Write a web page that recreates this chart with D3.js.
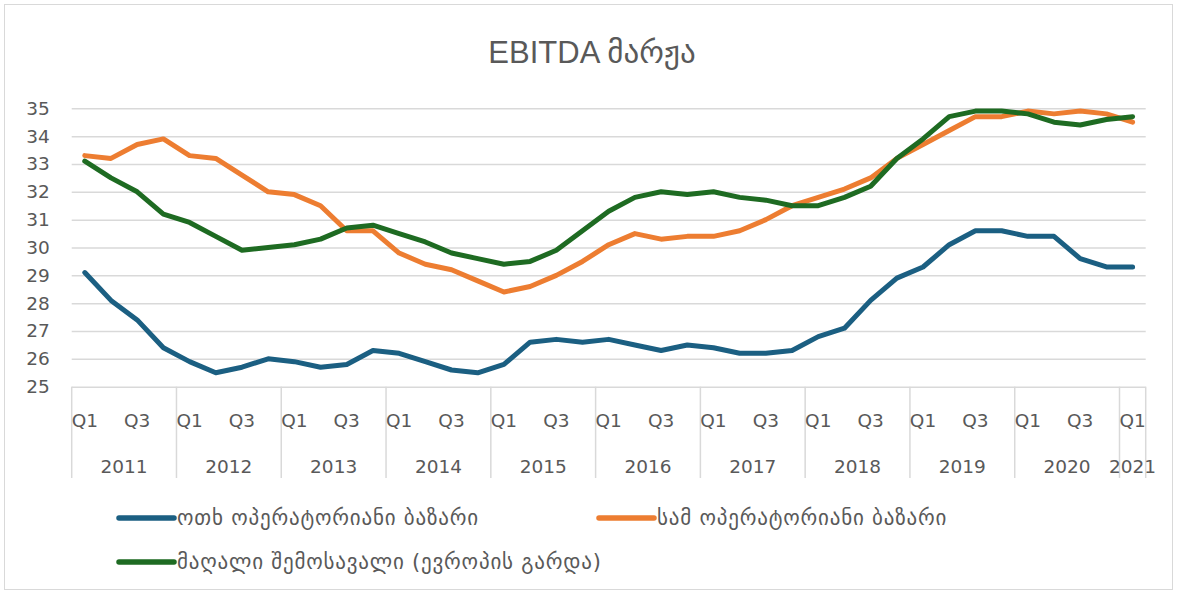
<!DOCTYPE html>
<html>
<head>
<meta charset="utf-8">
<script src="https://cdn.jsdelivr.net/npm/d3@7/dist/d3.min.js"></script>
<style>
  body { margin: 0; background: #fff; }
  text { font-family: "DejaVu Sans", sans-serif; fill: #595959; }
</style>
</head>
<body>
<svg id="chart" width="1177" height="593"></svg>
<script>
// chart data
var years = [2011, 2012, 2013, 2014, 2015, 2016, 2017, 2018, 2019, 2020, 2021];
var quarters = ["Q1", "Q2", "Q3", "Q4"];
var yTicks = [25, 26, 27, 28, 29, 30, 31, 32, 33, 34, 35];

var fourOp = [29.1, 28.1, 27.4, 26.4, 25.9, 25.5, 25.7, 26.0, 25.9, 25.7, 25.8,
  26.3, 26.2, 25.9, 25.6, 25.5, 25.8, 26.6, 26.7, 26.6, 26.7, 26.5,
  26.3, 26.5, 26.4, 26.2, 26.2, 26.3, 26.8, 27.1, 28.1, 28.9, 29.3,
  30.1, 30.6, 30.6, 30.4, 30.4, 29.6, 29.3, 29.3];
var threeOp = [33.3, 33.2, 33.7, 33.9, 33.3, 33.2, 32.6, 32.0, 31.9, 31.5, 30.6,
  30.6, 29.8, 29.4, 29.2, 28.8, 28.4, 28.6, 29.0, 29.5, 30.1, 30.5,
  30.3, 30.4, 30.4, 30.6, 31.0, 31.5, 31.8, 32.1, 32.5, 33.2, 33.7,
  34.2, 34.7, 34.7, 34.9, 34.8, 34.9, 34.8, 34.5];
var highInc = [33.1, 32.5, 32.0, 31.2, 30.9, 30.4, 29.9, 30.0, 30.1, 30.3, 30.7,
  30.8, 30.5, 30.2, 29.8, 29.6, 29.4, 29.5, 29.9, 30.6, 31.3, 31.8,
  32.0, 31.9, 32.0, 31.8, 31.7, 31.5, 31.5, 31.8, 32.2, 33.2, 33.9,
  34.7, 34.9, 34.9, 34.8, 34.5, 34.4, 34.6, 34.7];

var seriesNames = ["ოთხ ოპერატორიანი ბაზარი", "სამ ოპერატორიანი ბაზარი",
  "მაღალი შემოსავალი (ევროპის გარდა)"];
var colors = ["#1b5f82", "#ed7d31", "#1e6b22"];

// categories: every quarter up to 2021 Q1
var cats = [];
years.forEach(function(y) {
  quarters.forEach(function(q) {
    if (y < 2021 || q == "Q1") cats.push({year: y, q: q});
  });
});

var svg = d3.select("#chart");

svg.append("rect")
  .attr("x", 4.5).attr("y", 4.5)
  .attr("width", 1168).attr("height", 585)
  .attr("fill", "#fff").attr("stroke", "#d9d9d9");

var plotL = 71.7, plotR = 1145.7, plotT = 108.3, plotB = 386.7;

var x = d3.scaleBand().domain(d3.range(cats.length)).range([plotL, plotR]);
var y = d3.scaleLinear().domain([25, 35]).range([plotB, plotT]);
var cx = function(i) { return x(i) + x.bandwidth() / 2; };

// title
svg.append("text")
  .attr("x", 592).attr("y", 63)
  .attr("text-anchor", "middle")
  .style("font-family", "'Liberation Sans', 'DejaVu Sans', sans-serif")
  .style("font-size", "31px")
  .text("EBITDA მარჟა");

// gridlines + y labels
var yAxis = svg.append("g")
  .attr("transform", "translate(" + plotL + ",0)")
  .call(d3.axisLeft(y).tickValues(yTicks).tickSize(-(plotR - plotL)).tickPadding(22));
yAxis.select(".domain").remove();
yAxis.selectAll("line").attr("stroke", "#d9d9d9").attr("stroke-width", 1.5);
yAxis.selectAll("text")
  .style("font-family", "'DejaVu Sans', sans-serif")
  .style("font-size", "18.5px").attr("fill", "#595959");

// category axis: year separators
var bounds = [];
cats.forEach(function(c, i) { if (c.q == "Q1") bounds.push(i); });
svg.append("g").selectAll("line")
  .data(bounds.concat([cats.length]))
  .enter().append("line")
  .attr("x1", function(i) { return i < cats.length ? x(i) : plotR; })
  .attr("x2", function(i) { return i < cats.length ? x(i) : plotR; })
  .attr("y1", plotB).attr("y2", 478)
  .attr("stroke", "#d9d9d9").attr("stroke-width", 1.5);

// quarter labels (Q1, Q3 only)
svg.append("g").selectAll("text")
  .data(cats.map(function(c, i) { return {c: c, i: i}; })
    .filter(function(d) { return d.c.q == "Q1" || d.c.q == "Q3"; }))
  .enter().append("text")
  .attr("x", function(d) { return cx(d.i); })
  .attr("y", 426.5)
  .attr("text-anchor", "middle")
  .style("font-size", "18.5px")
  .text(function(d) { return d.c.q; });

// year labels
svg.append("g").selectAll("text")
  .data(years)
  .enter().append("text")
  .attr("x", function(yr) {
    var idx = cats.map(function(c, i) { return c.year == yr ? i : -1; })
      .filter(function(i) { return i >= 0; });
    return (x(idx[0]) + x(idx[idx.length - 1]) + x.bandwidth()) / 2;
  })
  .attr("y", 472.5)
  .attr("text-anchor", "middle")
  .style("font-size", "18.5px")
  .text(function(d) { return d; });

// lines
var line = d3.line()
  .x(function(d, i) { return cx(i); })
  .y(function(d) { return y(d); });

svg.append("g").selectAll("path")
  .data([fourOp, threeOp, highInc])
  .enter().append("path")
  .attr("d", line)
  .attr("fill", "none")
  .attr("stroke", function(d, i) { return colors[i]; })
  .attr("stroke-width", 5)
  .attr("stroke-linejoin", "round")
  .attr("stroke-linecap", "round");

// legend
var legendPos = [[116, 518], [596, 518], [116, 562]];
var leg = svg.append("g").selectAll("g")
  .data(seriesNames)
  .enter().append("g")
  .attr("transform", function(d, i) { return "translate(" + legendPos[i][0] + "," + legendPos[i][1] + ")"; });
leg.append("line")
  .attr("x1", 3).attr("x2", 58)
  .attr("stroke", function(d, i) { return colors[i]; })
  .attr("stroke-width", 5.5)
  .attr("stroke-linecap", "round");
leg.append("text")
  .attr("x", 61).attr("dy", "0.35em")
  .style("font-size", "21px")
  .style("letter-spacing", "0.8px")
  .text(function(d) { return d; });
</script>
</body>
</html>
